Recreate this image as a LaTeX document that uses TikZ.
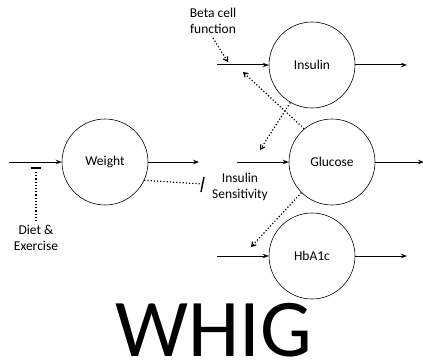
\documentclass[tikz,border=0pt]{standalone}
\usepackage{fontspec}
\setmainfont{Carlito}
\usetikzlibrary{arrows.meta}
\begin{document}
\begin{tikzpicture}[x=1pt,y=-1pt,
  state/.style={circle,draw,line width=0.6pt,minimum size=86pt,inner sep=0pt,font=\fontsize{13.5}{16}\selectfont},
  flow/.style={line width=1pt,-{Stealth[length=6pt,width=4.5pt]}},
  infl/.style={line width=1.2pt,dotted,-{Straight Barb[length=4pt,width=5pt]}},
  inh/.style={line width=1.2pt,dotted},
  lbl/.style={align=center,font=\fontsize{13.5}{16}\selectfont,inner sep=0pt}]
\useasboundingbox (0,0) rectangle (423,361);
\node[state] (ins) at (312,65) {Insulin};
\node[state] (wt) at (105,162) {Weight};
\node[state] (glu) at (332,162) {Glucose};
\node[state] (hb) at (312,256) {HbA1c};
% flows
\coordinate (insin) at (217,65);
\coordinate (insout) at (407,65);
\coordinate (wtin) at (9,162);
\coordinate (wtout) at (199,162);
\coordinate (gluin) at (237,162);
\coordinate (gluout) at (424,162);
\coordinate (hbin) at (217,256);
\coordinate (hbout) at (407,256);
\draw[flow] (insin) -- (ins);
\draw[flow] (ins) -- (insout);
\draw[flow] (wtin) -- (wt);
\draw[flow] (wt) -- (wtout);
\draw[flow] (gluin) -- (glu);
\draw[flow] (glu) -- (gluout);
\draw[flow] (hbin) -- (hb);
\draw[flow] (hb) -- (hbout);
% labels
\node[lbl] (beta) at (213,21) {Beta cell\\function};
\node[lbl] (sens) at (240,187) {Insulin\\Sensitivity};
\node[lbl] (diet) at (36,238) {Diet \&\\Exercise};
\node[font=\fontsize{82}{88}\selectfont,inner sep=0pt,text depth=0pt,anchor=base] (whig) at (214,356) {WHIG};
% influences
\coordinate (b1) at (213,38);
\coordinate (b2) at (228,62);
\draw[infl] (b1) -- (b2);
\coordinate (g2) at (243,72);
\draw[infl] (glu.130) -- (g2);
\coordinate (i2) at (260,150);
\draw[infl] (ins.240) -- (i2);
\coordinate (h2) at (251,247);
\draw[infl] (glu.225) -- (h2);
\coordinate (w2) at (202,184);
\draw[inh] (wt.-25) -- (w2);
\coordinate (bar1) at (204,177);
\coordinate (bar2) at (201,192);
\draw[line width=1.4pt] (bar1) -- (bar2);
\coordinate (d1) at (36,172);
\coordinate (d2) at (36,221);
\draw[inh] (d1) -- (d2);
\coordinate (dbL) at (31,168);
\coordinate (dbR) at (41,168);
\draw[line width=1.4pt] (dbL) -- (dbR);
\end{tikzpicture}
\end{document}
